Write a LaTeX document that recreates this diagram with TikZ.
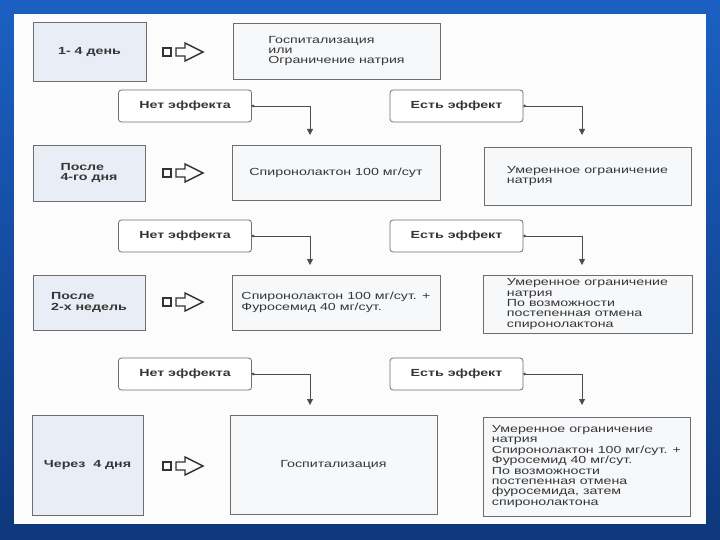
\documentclass[tikz,border=0pt]{standalone}
\usepackage{fontspec}
\setmainfont{Liberation Sans}[FakeStretch=1.38]
\usetikzlibrary{arrows.meta}

\definecolor{slidetop}{HTML}{1B60C2}
\definecolor{slidebot}{HTML}{0E377C}
\definecolor{pagefill}{HTML}{FCFCFD}
\definecolor{dayfill}{HTML}{E9EDF5}
\definecolor{boxfill}{HTML}{F7F8FA}
\definecolor{edgegray}{HTML}{6E6E6E}
\definecolor{inkgray}{HTML}{363636}

\newcommand\slidesize{\fontsize{10.3}{10.4}\selectfont}

\tikzset{
  daybox/.style={draw=edgegray, fill=dayfill, line width=0.9pt, align=left,
    font=\slidesize\bfseries, text=inkgray},
  stepbox/.style={draw=edgegray, fill=boxfill, line width=0.9pt, align=left,
    font=\slidesize, text=inkgray},
  effbox/.style={draw=edgegray, fill=white, rounded corners=3pt, line width=0.8pt,
    minimum width=133, minimum height=32, font=\slidesize\bfseries, text=inkgray},
  conn/.style={draw=black!70, line width=0.8pt,
    {Circle[length=2.6pt]}-{Triangle[length=6pt,width=6pt]}},
  gosign/.pic={
    \draw[line width=1.4pt, black!80] (-20,-4) rectangle (-12,4);
    \draw[line width=1.4pt, black!80, line join=miter]
      (-7,-4) -- (2,-4) -- (2,-9) -- (20,0) -- (2,9) -- (2,4) -- (-7,4) -- cycle;
  }
}

\begin{document}
\begin{tikzpicture}[x=1pt,y=-1pt]
  \useasboundingbox (0,0) rectangle (720,540);
  % slide background and page
  \shade[top color=slidetop, bottom color=slidebot] (0,0) rectangle (720,540);
  \fill[pagefill] (14,14) rectangle (706,524);

  % left column: time points
  \node[daybox, minimum width=113, minimum height=59] (d1) at (89.5,51.5) {1- 4 день};
  \node[daybox, minimum width=112, minimum height=56] (d2) at (89,173) {После\\4-го дня};
  \node[daybox, minimum width=112, minimum height=55] (d3) at (89,302.5) {После\\2-х недель};
  \node[daybox, minimum width=111, minimum height=100] (d4) at (87.5,465) {Через\ \ 4 дня};

  % arrows from time point to measure
  \pic (s1) at (183,52) {gosign};
  \pic (s2) at (183,173) {gosign};
  \pic (s3) at (183,302) {gosign};
  \pic (s4) at (183,466) {gosign};

  % middle column
  \node[stepbox, minimum width=207, minimum height=56] (b1) at (336.5,51)
    {Госпитализация\\или\\Ограничение натрия};
  \node[stepbox, minimum width=208, minimum height=55] (b2) at (336,172.5)
    {Спиронолактон 100 мг/сут};
  \node[stepbox, minimum width=208, minimum height=55] (b3) at (336,302.5)
    {Спиронолактон 100 мг/сут. +\\Фуросемид 40 мг/сут.};
  \node[stepbox, minimum width=207, minimum height=99] (b4) at (333.5,464.5)
    {Госпитализация};

  % right column
  \node[stepbox, minimum width=207, minimum height=58] (c2) at (587.5,176)
    {Умеренное ограничение\\натрия};
  \node[stepbox, minimum width=209, minimum height=58] (c3) at (587.5,304)
    {Умеренное ограничение\\натрия\\По возможности\\постепенная отмена\\спиронолактона};
  \node[stepbox, minimum width=207, minimum height=99] (c4) at (586.5,466.5)
    {Умеренное ограничение\\натрия\\Спиронолактон 100 мг/сут. +\\Фуросемид 40 мг/сут.\\По возможности\\постепенная отмена\\фуросемида, затем\\спиронолактона};

  % effect labels and connectors
  \foreach \r/\y/\t in {1/106/135, 2/236/265, 3/374/405}{
    \node[effbox] (no\r) at (185,\y) {Нет эффекта};
    \node[effbox] (yes\r) at (456.5,\y) {Есть эффект};
    \coordinate (tno\r) at (310,\t);
    \coordinate (tyes\r) at (582,\t);
    \draw[conn] (no\r.east) -| (tno\r);
    \draw[conn] (yes\r.east) -| (tyes\r);
  }
\end{tikzpicture}
\end{document}
